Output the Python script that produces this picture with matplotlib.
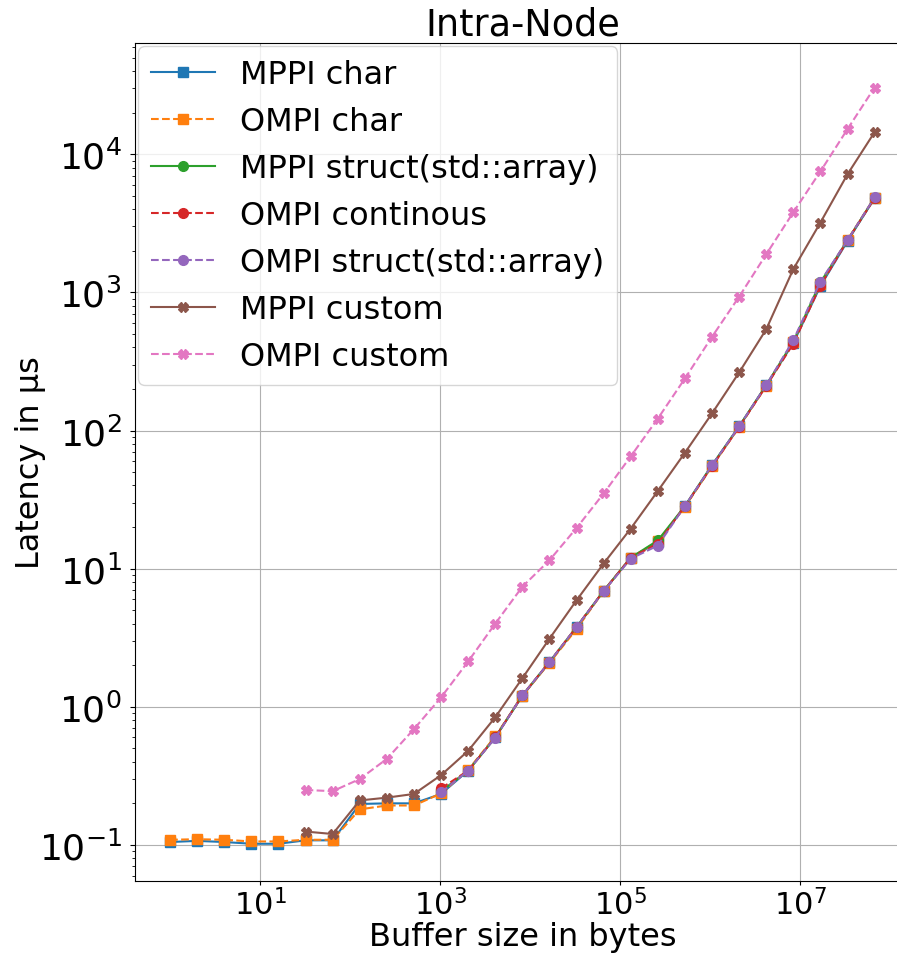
import numpy as np
import matplotlib
matplotlib.use('Agg')
import matplotlib.pyplot as plt

plt.rcParams['font.size'] = 22

# buffer sizes: 2^0 .. 2^26 bytes
exponents = np.arange(0, 27)
buf_sizes = 2.0 ** exponents

# latencies in microseconds
mppi_char = [0.105, 0.107, 0.105, 0.102, 0.102, 0.108, 0.108, 0.198, 0.200, 0.200,
             0.234, 0.345, 0.60, 1.20, 2.10, 3.75, 6.9, 12.0, 15.5, 28.3,
             56, 107, 212, 430, 1110, 2350, 4800]
ompi_char = [0.109, 0.110, 0.109, 0.106, 0.106, 0.109, 0.109, 0.181, 0.193, 0.193,
             0.236, 0.350, 0.61, 1.20, 2.08, 3.65, 6.9, 12.0, 15.8, 28.0,
             55, 106, 210, 440, 1150, 2400, 4850]

# struct / continuous series start at 2^10
mppi_struct = [0.245, 0.345, 0.60, 1.21, 2.11, 3.78, 6.9, 12.0, 16.0, 28.4,
               56, 107, 213, 440, 1180, 2380, 4850]
ompi_cont = [0.257, 0.345, 0.60, 1.21, 2.11, 3.78, 6.9, 12.0, 15.2, 28.4,
             55, 106, 210, 425, 1120, 2380, 4800]
ompi_struct = [0.240, 0.345, 0.596, 1.21, 2.11, 3.78, 6.87, 11.8, 14.7, 28.4,
               56, 107, 213, 450, 1195, 2390, 4870]

# custom types start at 2^5
mppi_custom = [0.125, 0.120, 0.21, 0.22, 0.234, 0.32, 0.48, 0.84, 1.61, 3.11,
               5.9, 10.9, 19.5, 36.5, 69, 133, 263, 540, 1473, 3200, 7160, 14450]
ompi_custom = [0.25, 0.245, 0.30, 0.42, 0.69, 1.17, 2.13, 4.0, 7.4, 11.5,
               19.7, 35, 65, 122, 238, 477, 930, 1884, 3800, 7500, 15200, 30400]

fig = plt.figure(figsize=(8.97, 9.54), dpi=100)
ax = fig.add_axes([135/897, 72/954, 775/897, 838/954])

ms = 7
ax.plot(buf_sizes, mppi_char, '-', marker='s', ms=ms, color='tab:blue', label='MPPI char')
ax.plot(buf_sizes, ompi_char, '--', marker='s', ms=ms, color='tab:orange', label='OMPI char')
ax.plot(buf_sizes[10:], mppi_struct, '-', marker='o', ms=ms, color='tab:green', label='MPPI struct(std::array)')
ax.plot(buf_sizes[10:], ompi_cont, '--', marker='o', ms=ms, color='tab:red', label='OMPI continous')
ax.plot(buf_sizes[10:], ompi_struct, '--', marker='o', ms=ms, color='tab:purple', label='OMPI struct(std::array)')
ax.plot(buf_sizes[5:], mppi_custom, '-', marker='X', ms=ms, color='tab:brown', label='MPPI custom')
ax.plot(buf_sizes[5:], ompi_custom, '--', marker='X', ms=ms, color='tab:pink', label='OMPI custom')

ax.set_xscale('log')
ax.set_yscale('log')
ax.set_xlim(10**-0.39, 10**8.22)
ax.set_ylim(10**-1.261, 10**4.805)
ax.set_xticks([1e1, 1e3, 1e5, 1e7])
ax.xaxis.set_minor_locator(plt.NullLocator())
ax.tick_params(axis='x', which='major', length=3, pad=2)
ax.tick_params(axis='y', which='major', labelsize=26, pad=6)
ax.grid(True, which='major', color='#b0b0b0', linewidth=0.8)

ax.set_title('Intra-Node')
ax.set_xlabel('Buffer size in bytes', labelpad=0.5, fontsize=23)
ax.set_ylabel('Latency in µs', fontsize=23)
ax.yaxis.set_label_coords(-0.115, 0.5)
ax.legend(loc='upper left', borderaxespad=0.1, fontsize=23)

fig.savefig('out.png', dpi=100)
